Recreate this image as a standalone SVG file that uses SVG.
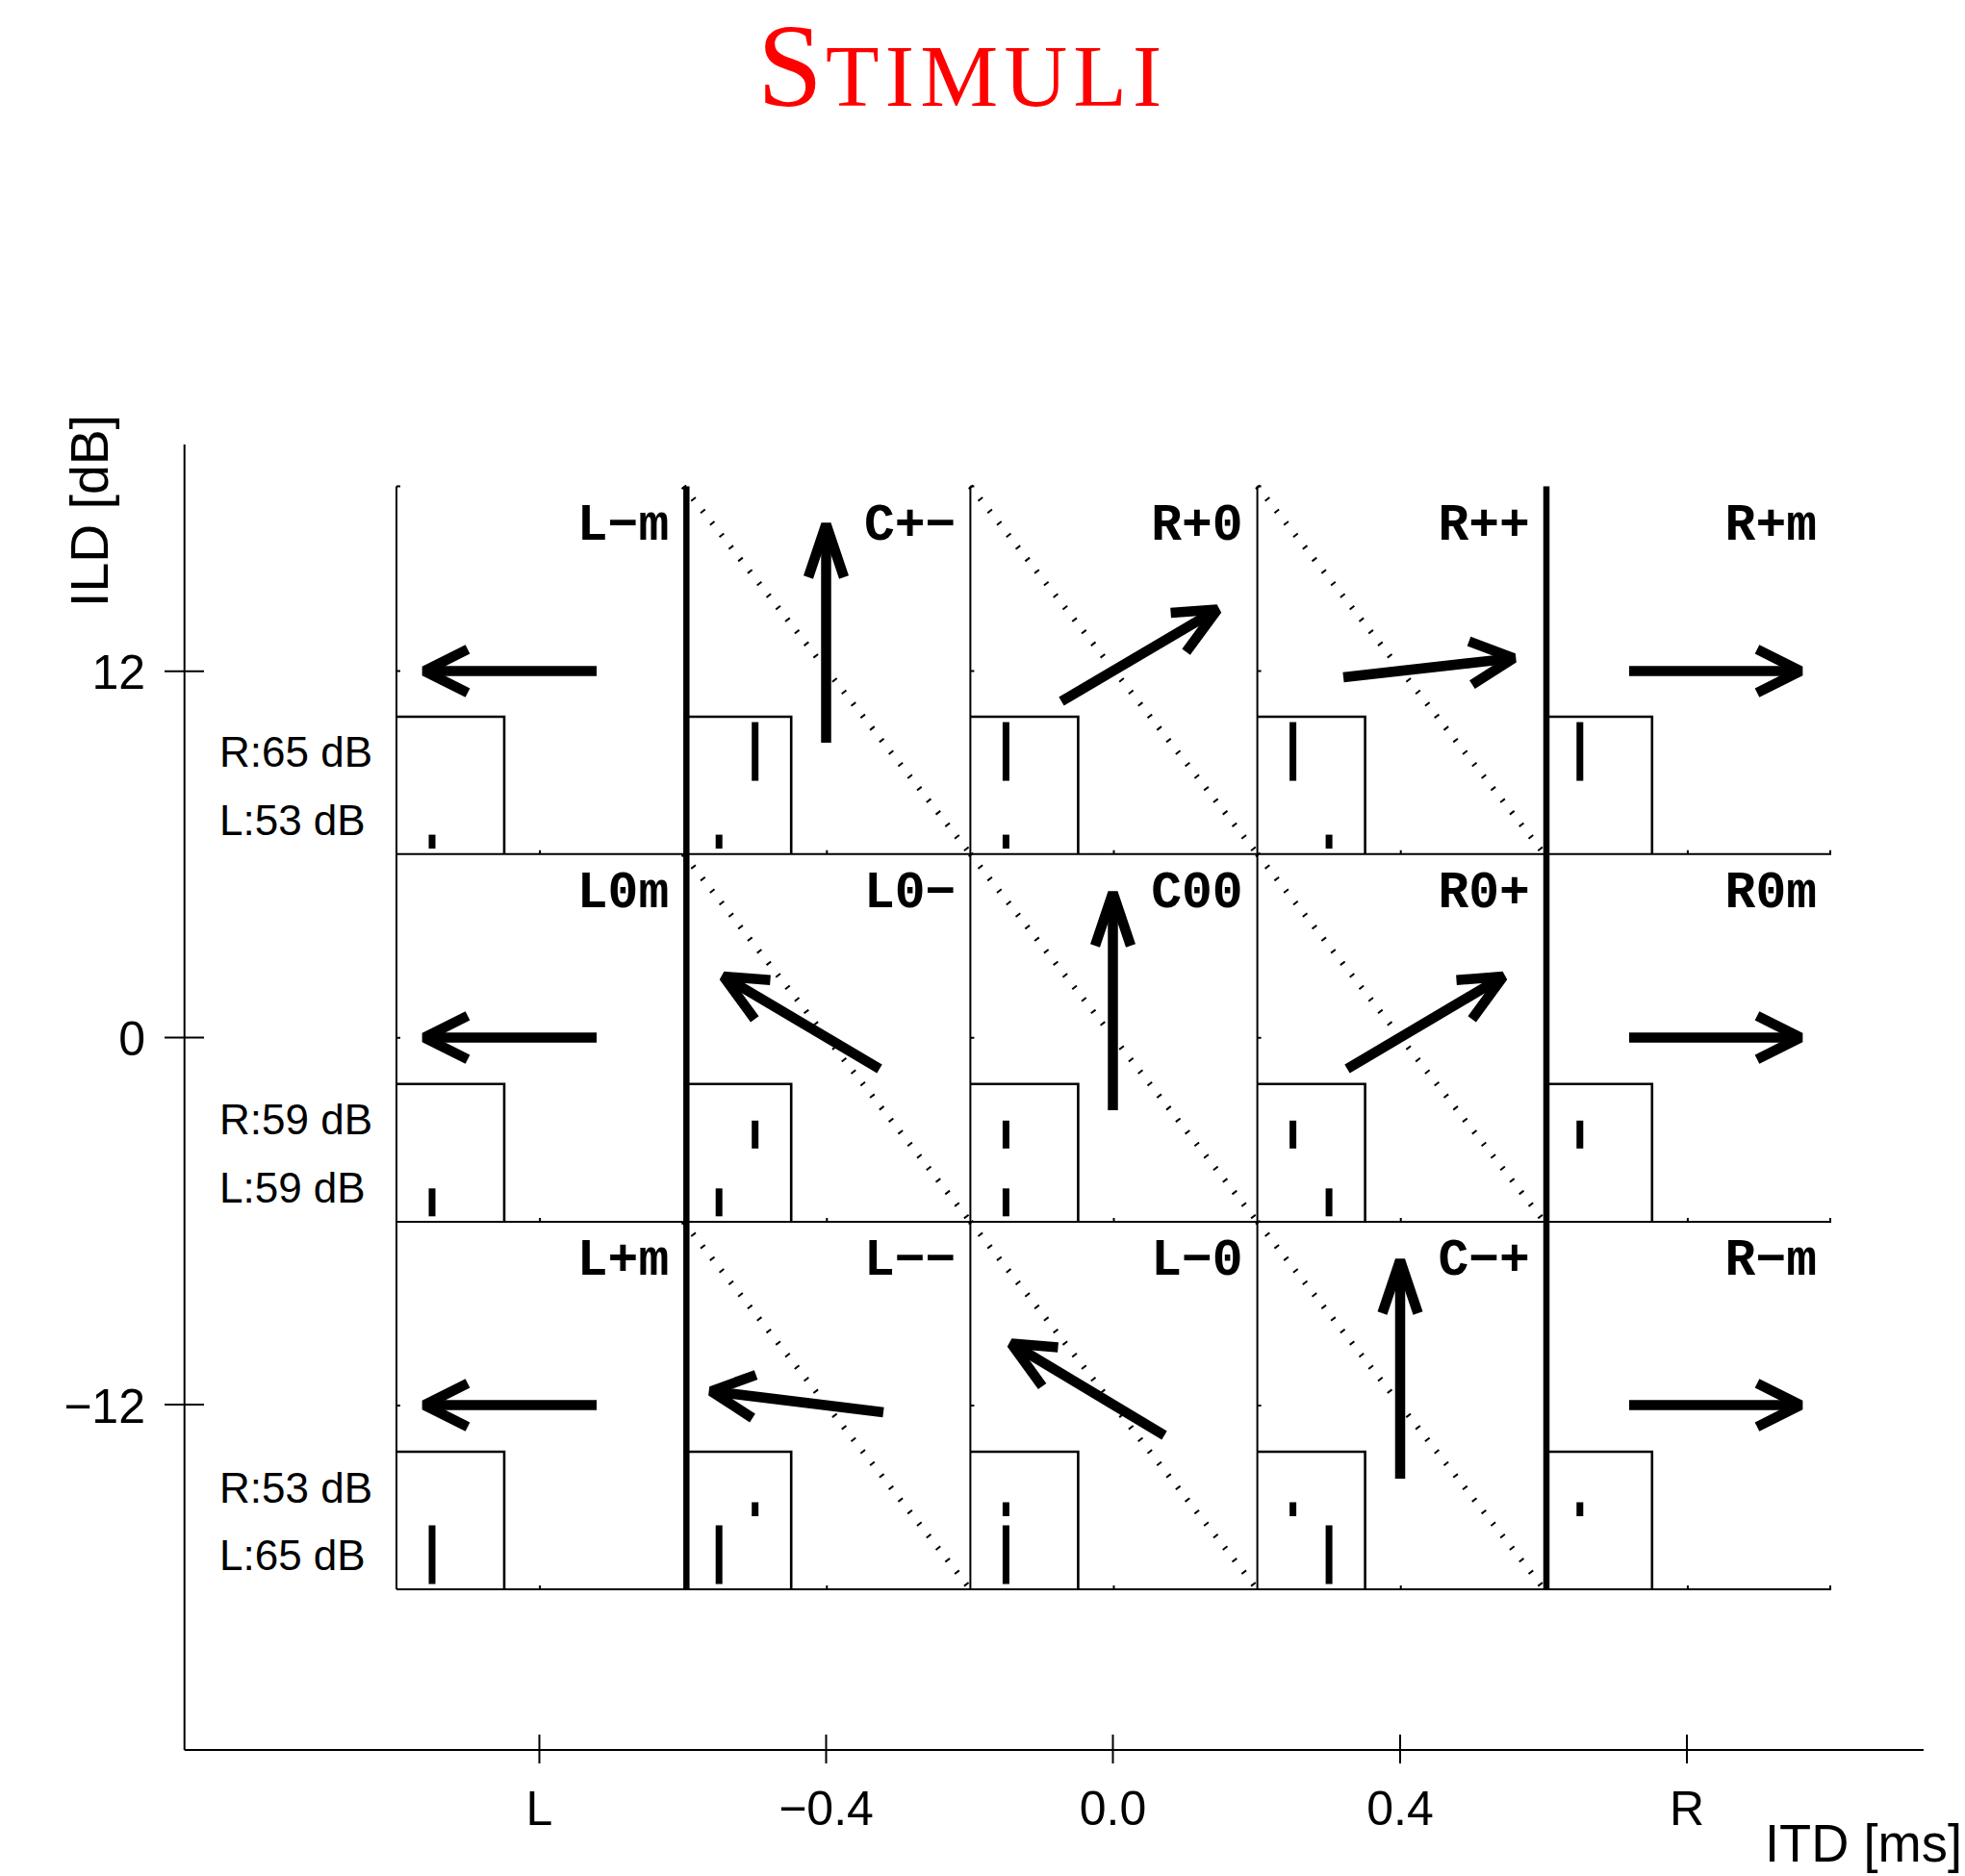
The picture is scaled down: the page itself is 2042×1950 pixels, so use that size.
<svg xmlns="http://www.w3.org/2000/svg" width="2042" height="1950" viewBox="0 0 2042 1950">
<style>
.ax{stroke:#000;stroke-width:2;fill:none}
.thin{stroke:#000;stroke-width:2;fill:none}
.thick{stroke:#000;stroke-width:6.5;fill:none}
.box{stroke:#000;stroke-width:2.6;fill:none}
.diag{stroke:#000;stroke-width:6;stroke-dasharray:2 13.9;fill:none}
.bar{fill:#000}
.shaft{stroke:#000;stroke-width:10.5;fill:none;stroke-linecap:butt}
.head{stroke:#000;stroke-width:10.5;fill:none;stroke-linejoin:bevel;stroke-linecap:butt}
.code{font-family:"Liberation Mono","Courier New",monospace;font-weight:bold;font-size:53px;text-anchor:end;fill:#000}
.lvl{font-family:"Liberation Sans",Arial,sans-serif;font-size:44px;fill:#000}
.tick{font-family:"Liberation Sans",Arial,sans-serif;font-size:50px;fill:#000}
.axl{font-family:"Liberation Sans",Arial,sans-serif;font-size:56px;fill:#000}
.title{font-family:"Liberation Serif","Times New Roman",serif;fill:#ff0000}
</style>
<rect width="2042" height="1950" fill="#fff"/>

<g id="title">
<text class="title" y="110"><tspan x="787" font-size="122">S</tspan><tspan x="858" font-size="91" letter-spacing="6.2">TIMULI</tspan></text>
</g>

<g id="axes">
<line class="ax" x1="191.7" y1="462" x2="191.7" y2="1819"/>
<line class="ax" x1="191.7" y1="1819" x2="1999" y2="1819"/>
<line class="ax" x1="171" y1="697.7" x2="212" y2="697.7"/>
<line class="ax" x1="171" y1="1078.5" x2="212" y2="1078.5"/>
<line class="ax" x1="171" y1="1460" x2="212" y2="1460"/>
<line class="ax" x1="560.5" y1="1803" x2="560.5" y2="1833"/>
<line class="ax" x1="858.5" y1="1803" x2="858.5" y2="1833"/>
<line class="ax" x1="1156.5" y1="1803" x2="1156.5" y2="1833"/>
<line class="ax" x1="1455" y1="1803" x2="1455" y2="1833"/>
<line class="ax" x1="1753" y1="1803" x2="1753" y2="1833"/>
<text class="tick" x="151" y="716" text-anchor="end">12</text>
<text class="tick" x="151" y="1097" text-anchor="end">0</text>
<text class="tick" x="151" y="1479" text-anchor="end">−12</text>
<text class="tick" x="560.5" y="1897" text-anchor="middle">L</text>
<text class="tick" x="858.5" y="1897" text-anchor="middle">−0.4</text>
<text class="tick" x="1156.5" y="1897" text-anchor="middle">0.0</text>
<text class="tick" x="1455" y="1897" text-anchor="middle">0.4</text>
<text class="tick" x="1753" y="1897" text-anchor="middle">R</text>
<text class="axl" transform="translate(112,531) rotate(-90)" text-anchor="middle" textLength="200" lengthAdjust="spacingAndGlyphs">ILD [dB]</text>
<text class="axl" x="1834" y="1935" textLength="205" lengthAdjust="spacingAndGlyphs">ITD [ms]</text>
<text class="lvl" x="228" y="797">R:65 dB</text>
<text class="lvl" x="228" y="867.6">L:53 dB</text>
<text class="lvl" x="228" y="1179.3">R:59 dB</text>
<text class="lvl" x="228" y="1249.8">L:59 dB</text>
<text class="lvl" x="228" y="1561.5">R:53 dB</text>
<text class="lvl" x="228" y="1632">L:65 dB</text>
</g>

<g id="grid">
<line class="thin" x1="412" y1="505.5" x2="412" y2="1652.1"/>
<line class="thin" x1="1008.4" y1="505.5" x2="1008.4" y2="1652.1"/>
<line class="thin" x1="1306.6" y1="505.5" x2="1306.6" y2="1652.1"/>
<line class="thin" x1="412" y1="887.7" x2="1903" y2="887.7"/>
<line class="thin" x1="412" y1="1269.9" x2="1903" y2="1269.9"/>
<line class="thin" x1="412" y1="1652.1" x2="1903" y2="1652.1"/>
<path class="thin" d="M412,505.5h4M1008.4,505.5h4M1306.6,505.5h4M412,697.6h4M1008.4,697.6h4M1306.6,697.6h4M412,1078.8h4M1008.4,1078.8h4M1306.6,1078.8h4M412,1461h4M1008.4,1461h4M1306.6,1461h4"/>
<path class="thin" d="M561.1,887.7v-4M859.3,887.7v-4M1157.5,887.7v-4M1455.7,887.7v-4M1753.9,887.7v-4M1902,887.7v-4M561.1,1269.9v-4M859.3,1269.9v-4M1157.5,1269.9v-4M1455.7,1269.9v-4M1753.9,1269.9v-4M1902,1269.9v-4M561.1,1652.1v-4M859.3,1652.1v-4M1157.5,1652.1v-4M1455.7,1652.1v-4M1753.9,1652.1v-4M1902,1652.1v-4"/>
<line class="thick" x1="713.3" y1="505.5" x2="713.3" y2="1652.1"/>
<line class="thick" x1="1607" y1="505.5" x2="1607" y2="1652.1"/>
<path class="diag" d="M710.2,505.5L1008.4,887.7M1008.4,505.5L1306.6,887.7M1306.6,505.5L1604.8,887.7"/>
<path class="diag" d="M710.2,887.7L1008.4,1269.9M1008.4,887.7L1306.6,1269.9M1306.6,887.7L1604.8,1269.9"/>
<path class="diag" d="M710.2,1269.9L1008.4,1652.1M1008.4,1269.9L1306.6,1652.1M1306.6,1269.9L1604.8,1652.1"/>
</g>

<!-- Row 1 -->
<g id="panel-L-m">
<path class="box" d="M412,745H524V887.7"/>
<rect class="bar" x="445.5" y="867.6" width="7" height="14.5"/>
<text class="code" x="695.2" y="560.6">L−m</text>
</g>
<g id="panel-C+-">
<path class="box" d="M710.2,745H822.2V887.7"/>
<rect class="bar" x="781.2" y="750.6" width="7" height="61"/>
<rect class="bar" x="743.7" y="867.6" width="7" height="14.5"/>
<text class="code" x="993.4" y="560.6">C+−</text>
</g>
<g id="panel-R+0">
<path class="box" d="M1008.4,745H1120.4V887.7"/>
<rect class="bar" x="1041.9" y="750.6" width="7" height="61"/>
<rect class="bar" x="1041.9" y="867.6" width="7" height="14.5"/>
<text class="code" x="1291.6" y="560.6">R+0</text>
</g>
<g id="panel-R++">
<path class="box" d="M1306.6,745H1418.6V887.7"/>
<rect class="bar" x="1340.1" y="750.6" width="7" height="61"/>
<rect class="bar" x="1377.6" y="867.6" width="7" height="14.5"/>
<text class="code" x="1589.8" y="560.6">R++</text>
</g>
<g id="panel-R+m">
<path class="box" d="M1604.8,745H1716.8V887.7"/>
<rect class="bar" x="1638.3" y="750.6" width="7" height="61"/>
<text class="code" x="1888" y="560.6">R+m</text>
</g>

<!-- Row 2 -->
<g id="panel-L0m">
<path class="box" d="M412,1126.8H524V1269.9"/>
<rect class="bar" x="445.5" y="1235.3" width="7" height="29"/>
<text class="code" x="695.2" y="942.8">L0m</text>
</g>
<g id="panel-L0-">
<path class="box" d="M710.2,1126.8H822.2V1269.9"/>
<rect class="bar" x="781.2" y="1164.8" width="7" height="29"/>
<rect class="bar" x="743.7" y="1235.3" width="7" height="29"/>
<text class="code" x="993.4" y="942.8">L0−</text>
</g>
<g id="panel-C00">
<path class="box" d="M1008.4,1126.8H1120.4V1269.9"/>
<rect class="bar" x="1041.9" y="1164.8" width="7" height="29"/>
<rect class="bar" x="1041.9" y="1235.3" width="7" height="29"/>
<text class="code" x="1291.6" y="942.8">C00</text>
</g>
<g id="panel-R0+">
<path class="box" d="M1306.6,1126.8H1418.6V1269.9"/>
<rect class="bar" x="1340.1" y="1164.8" width="7" height="29"/>
<rect class="bar" x="1377.6" y="1235.3" width="7" height="29"/>
<text class="code" x="1589.8" y="942.8">R0+</text>
</g>
<g id="panel-R0m">
<path class="box" d="M1604.8,1126.8H1716.8V1269.9"/>
<rect class="bar" x="1638.3" y="1164.8" width="7" height="29"/>
<text class="code" x="1888" y="942.8">R0m</text>
</g>

<!-- Row 3 -->
<g id="panel-L+m">
<path class="box" d="M412,1509H524V1652.1"/>
<rect class="bar" x="445.5" y="1585.5" width="7" height="61"/>
<text class="code" x="695.2" y="1325">L+m</text>
</g>
<g id="panel-L--">
<path class="box" d="M710.2,1509H822.2V1652.1"/>
<rect class="bar" x="781.2" y="1561.5" width="7" height="14.5"/>
<rect class="bar" x="743.7" y="1585.5" width="7" height="61"/>
<text class="code" x="993.4" y="1325">L−−</text>
</g>
<g id="panel-L-0">
<path class="box" d="M1008.4,1509H1120.4V1652.1"/>
<rect class="bar" x="1041.9" y="1561.5" width="7" height="14.5"/>
<rect class="bar" x="1041.9" y="1585.5" width="7" height="61"/>
<text class="code" x="1291.6" y="1325">L−0</text>
</g>
<g id="panel-C-+">
<path class="box" d="M1306.6,1509H1418.6V1652.1"/>
<rect class="bar" x="1340.1" y="1561.5" width="7" height="14.5"/>
<rect class="bar" x="1377.6" y="1585.5" width="7" height="61"/>
<text class="code" x="1589.8" y="1325">C−+</text>
</g>
<g id="panel-R-m">
<path class="box" d="M1604.8,1509H1716.8V1652.1"/>
<rect class="bar" x="1638.3" y="1561.5" width="7" height="14.5"/>
<text class="code" x="1888" y="1325">R−m</text>
</g>

<g id="connectors">
<line class="shaft" x1="620" y1="697.5" x2="441" y2="697.5"/><polyline class="head" points="486,674.9 441,697.5 486,720.1"/>
<line class="shaft" x1="858.5" y1="772" x2="858.5" y2="545"/><polyline class="head" points="840,600 858.5,545 877,600"/>
<line class="shaft" x1="1103" y1="729" x2="1265" y2="633.6"/><polyline class="head" points="1232.6,677.7 1265,633.6 1216.6,637.1"/>
<line class="shaft" x1="1396" y1="704" x2="1573" y2="684.1"/><polyline class="head" points="1529.9,711.6 1573,684.1 1526.5,666.7"/>
<line class="shaft" x1="1693" y1="697.5" x2="1871" y2="697.5"/><polyline class="head" points="1826,674.9 1871,697.5 1826,720.1"/>

<line class="shaft" x1="620" y1="1078.5" x2="441" y2="1078.5"/><polyline class="head" points="486,1055.9 441,1078.5 486,1101.1"/>
<line class="shaft" x1="914" y1="1111" x2="752" y2="1015.1"/><polyline class="head" points="800.5,1018.7 752,1015.1 784.3,1059.3"/>
<line class="shaft" x1="1156.5" y1="1154" x2="1156.5" y2="928"/><polyline class="head" points="1138,983 1156.5,928 1175,983"/>
<line class="shaft" x1="1400" y1="1111" x2="1562" y2="1015.1"/><polyline class="head" points="1513.5,1018.7 1562,1015.1 1529.7,1059.3"/>
<line class="shaft" x1="1693" y1="1078.5" x2="1871" y2="1078.5"/><polyline class="head" points="1826,1055.9 1871,1078.5 1826,1101.1"/>

<line class="shaft" x1="620" y1="1460.5" x2="441" y2="1460.5"/><polyline class="head" points="486,1437.9 441,1460.5 486,1483.1"/>
<line class="shaft" x1="918" y1="1468" x2="739" y2="1446.1"/><polyline class="head" points="785.6,1429.1 739,1446.1 782,1474"/>
<line class="shaft" x1="1210" y1="1492" x2="1051" y2="1396.6"/><polyline class="head" points="1099.5,1400.5 1051,1396.6 1083.1,1441"/>
<line class="shaft" x1="1455" y1="1537" x2="1455" y2="1310"/><polyline class="head" points="1436.5,1365 1455,1310 1473.5,1365"/>
<line class="shaft" x1="1693" y1="1460.5" x2="1871" y2="1460.5"/><polyline class="head" points="1826,1437.9 1871,1460.5 1826,1483.1"/>
</g>
</svg>
